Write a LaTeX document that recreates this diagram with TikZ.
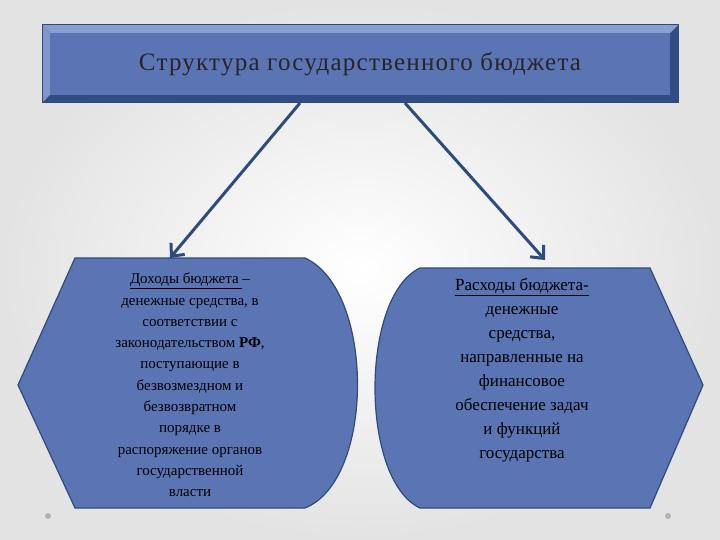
\documentclass[tikz,border=0pt]{standalone}
\usepackage{fontspec}
\setmainfont{Liberation Serif}
\usetikzlibrary{arrows.meta}
\definecolor{fillb}{HTML}{5B74B4}
\definecolor{edgeb}{HTML}{2D4C7C}
\definecolor{bevlight}{HTML}{8A9FD0}
\definecolor{bevdark}{HTML}{324C86}
\tikzset{
 shapebox/.style={fill=fillb,draw=edgeb,line width=1.2pt},
 txt/.style={align=center,font=\fontsize{15}{21.3}\selectfont,text=black},
 conn/.style={draw=edgeb,line width=3pt,-{Straight Barb[length=10pt,width=18pt]}},
 dot/.style={circle,fill=gray!60,inner sep=0pt,minimum size=6pt}
}
\begin{document}
\begin{tikzpicture}[x=1pt,y=-1pt]
\useasboundingbox (0,0) rectangle (720,540);
\shade[inner color=white,outer color=gray!22] (0,0) rectangle (720,540);
\fill[bevdark] (42,25) rectangle (678,103);
\fill[bevlight] (42,25) -- (678,25) -- (670,33) -- (50,33) -- cycle;
\fill[bevlight!80!fillb] (42,25) -- (50,33) -- (50,95) -- (42,103) -- cycle;
\fill[fillb] (50,33) rectangle (670,95);
\draw[edgeb,line width=1pt] (42,25) rectangle (678,103);
\node[font=\fontsize{25}{28}\selectfont\addfontfeatures{LetterSpace=5},text=black!85] (title) at (360,64) {Структура государственного бюджета};
\coordinate (t1) at (300,103);
\coordinate (t2) at (405,103);
\draw[shapebox] (75,258) -- (305,258) .. controls (375,290) and (375,480) .. (305,508) -- (75,508) -- (18,385) -- cycle;
\node[txt] (left) at (190,385) {\underline{Доходы бюджета }–\\денежные средства, в\\соответствии с\\законодательством \textbf{РФ},\\поступающие в\\безвозмездном и\\безвозвратном\\порядке в\\распоряжение органов\\государственной\\власти};
\draw[shapebox] (420,268) -- (650,268) -- (703,385) -- (650,508) -- (420,508) .. controls (360,480) and (360,296) .. (420,268) -- cycle;
\node[txt,font=\fontsize{17}{24}\selectfont] (right) at (522,370) {\underline{Расходы бюджета-}\\денежные\\средства,\\направленные на\\финансовое\\обеспечение задач\\и функций\\государства};
\coordinate (l1) at (170,258);
\coordinate (r1) at (545,260);
\draw[conn] (t1) -- (l1);
\draw[conn] (t2) -- (r1);
\node[dot] (d1) at (48,516) {};
\node[dot] (d2) at (668,516) {};
\end{tikzpicture}
\end{document}
